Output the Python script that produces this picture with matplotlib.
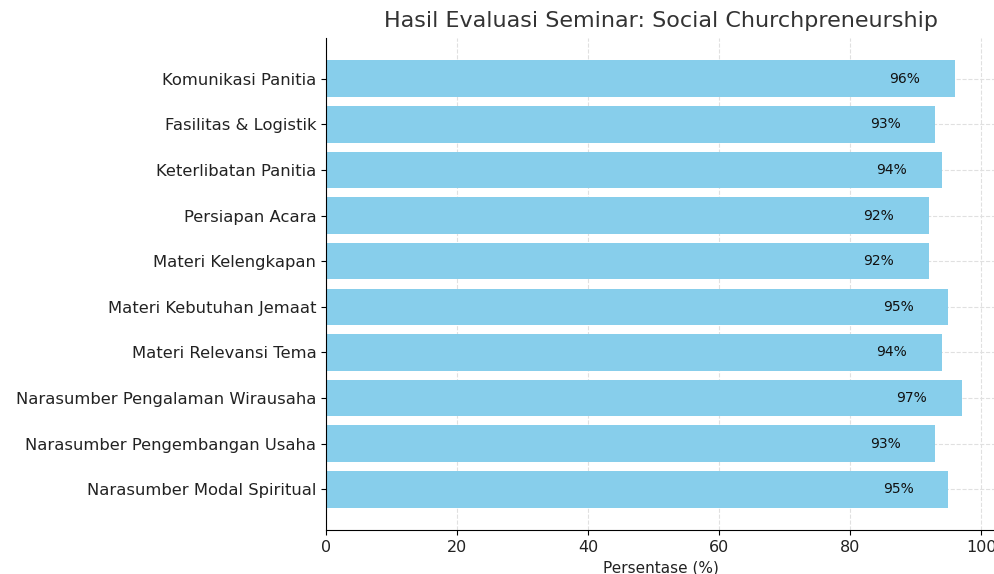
import matplotlib.pyplot as plt

# data (top to bottom as shown)
aspek = ["Komunikasi Panitia", "Fasilitas & Logistik", "Keterlibatan Panitia",
         "Persiapan Acara", "Materi Kelengkapan", "Materi Kebutuhan Jemaat",
         "Materi Relevansi Tema", "Narasumber Pengalaman Wirausaha",
         "Narasumber Pengembangan Usaha", "Narasumber Modal Spiritual"]
persen = [96, 93, 94, 92, 92, 95, 94, 97, 93, 95]

fig = plt.figure(figsize=(9.95, 5.74), dpi=100)
ax = fig.add_axes([326/995, 44/574, 1 - 326/995, (530-38)/574])

ypos = list(range(len(aspek)))
bars = ax.barh(ypos, persen, height=0.8, color='skyblue', zorder=2)
ax.set_yticks(ypos)
ax.set_yticklabels(aspek, fontsize=11.8, color='#222222')
ax.invert_yaxis()

for b, v in zip(bars, persen):
    ax.text(v - 10, b.get_y() + b.get_height()/2, str(v) + "%",
            va='center', ha='left', fontsize=10, color='#111111', zorder=3)

ax.set_xlim(0, 102.1)
ax.set_xticks([0, 20, 40, 60, 80, 100])
ax.tick_params(axis='x', labelsize=11.5, labelcolor='#222222')
ax.tick_params(axis='y', pad=3.5)
ax.set_xlabel("Persentase (%)", fontsize=11, color='#222222')
ax.set_title("Hasil Evaluasi Seminar: Social Churchpreneurship", fontsize=16, color='#333333', pad=8)
ax.grid(True, linestyle='--', color='#e0e0e0', linewidth=0.8, zorder=0)
ax.set_axisbelow(True)
ax.spines['top'].set_visible(False)
ax.spines['right'].set_visible(False)

plt.savefig("out.png", dpi=100)
